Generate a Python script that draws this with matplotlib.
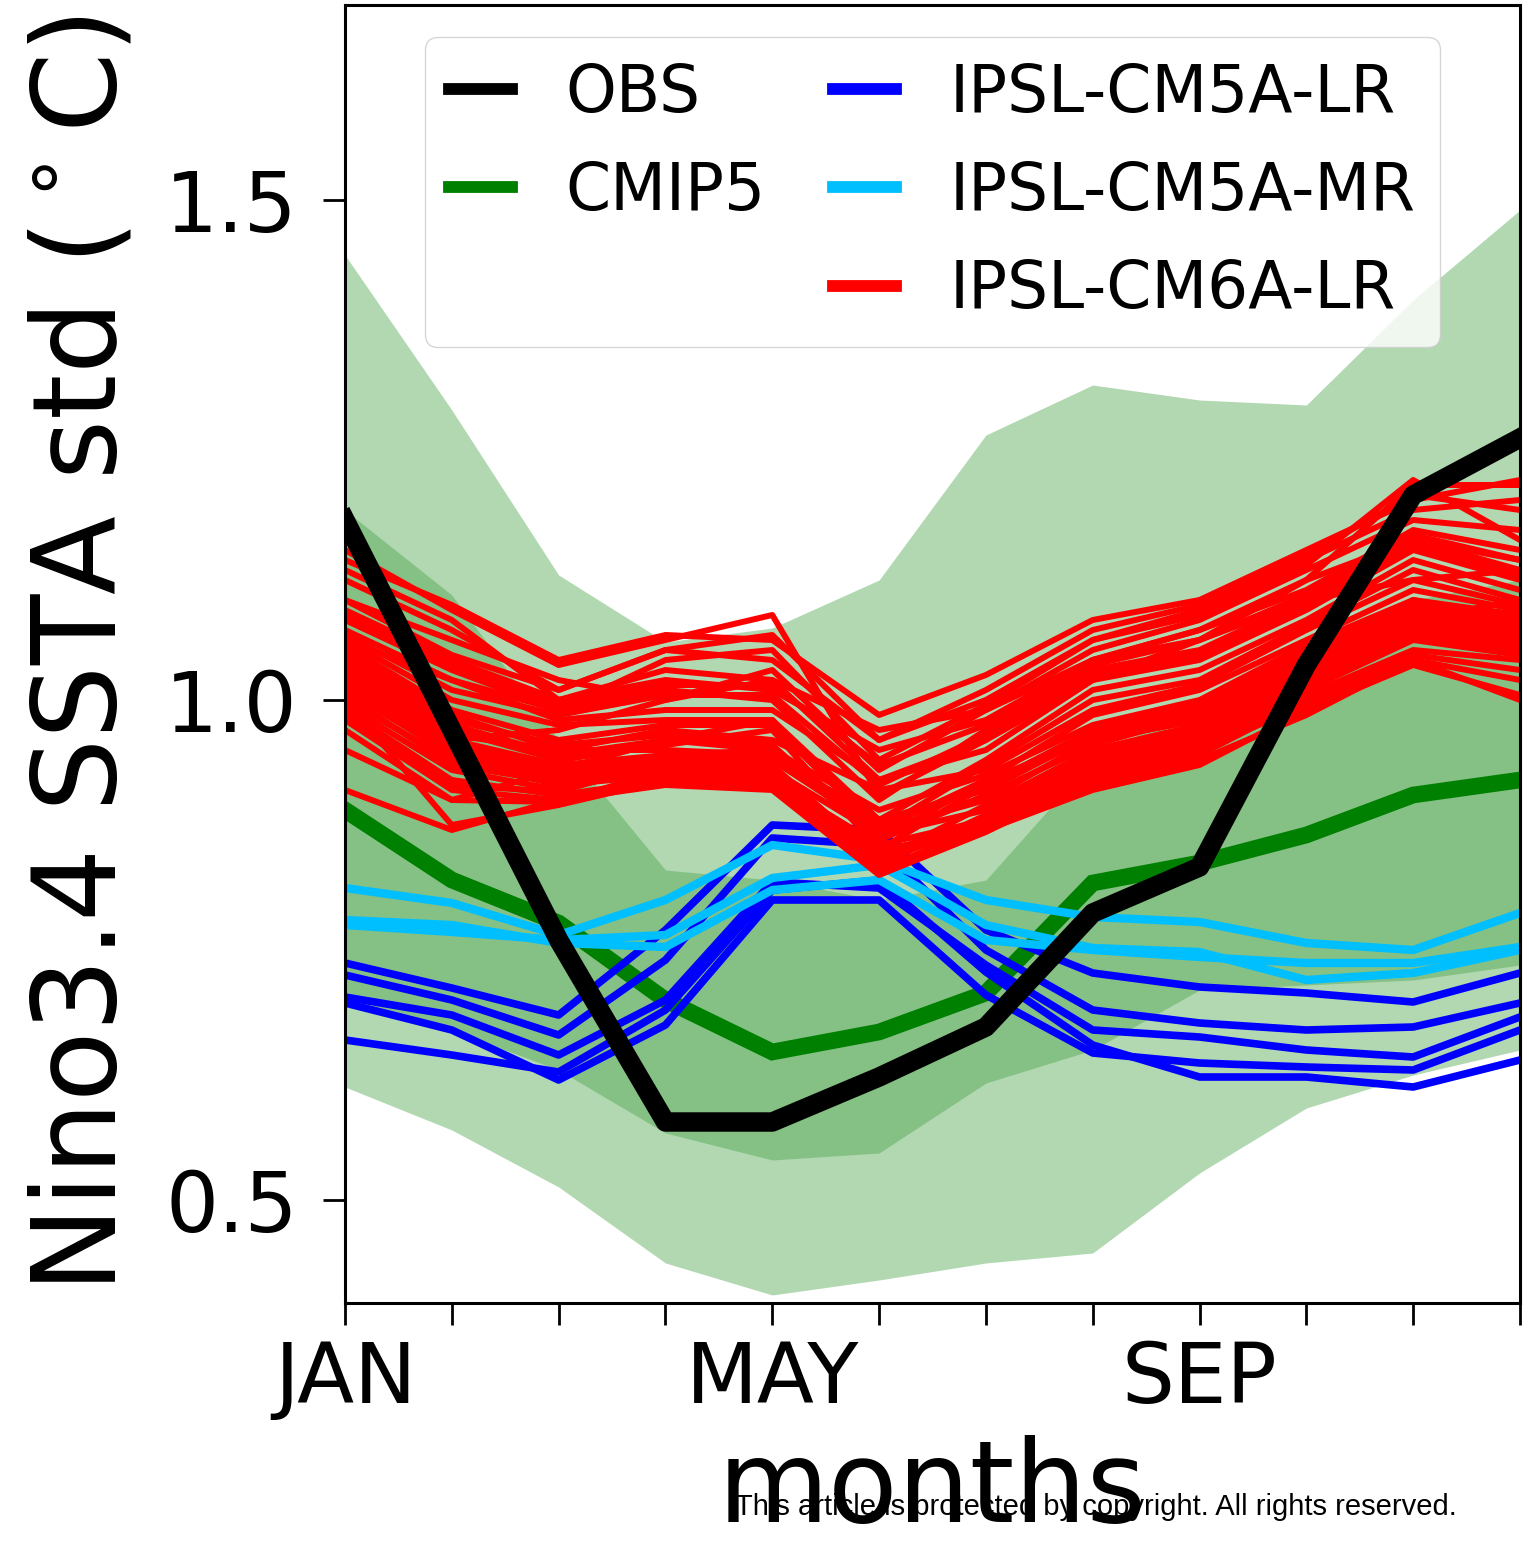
import matplotlib
matplotlib.use("Agg")
import matplotlib.pyplot as plt
from matplotlib.lines import Line2D
import numpy as np

# months and tick labels
months = np.arange(1, 13)
month_labels = ['JAN', '', '', '', 'MAY', '', '', '', 'SEP', '', '', '']

# observed Nino3.4 SSTA std
obs = [1.18, 0.97, 0.76, 0.578, 0.578, 0.623, 0.673, 0.787, 0.833, 1.035, 1.205, 1.262]

# CMIP5 multi-model mean and spread
cmip5_mean = [0.89, 0.82, 0.777, 0.70, 0.648, 0.668, 0.707, 0.817, 0.837, 0.865, 0.905, 0.92]
cmip5_outer_hi = [1.445, 1.29, 1.125, 1.058, 1.072, 1.12, 1.265, 1.315, 1.30, 1.295, 1.40, 1.49]
cmip5_outer_lo = [0.613, 0.57, 0.513, 0.437, 0.405, 0.42, 0.437, 0.447, 0.527, 0.592, 0.625, 0.65]
cmip5_inner_hi = [1.19, 1.105, 0.96, 0.83, 0.82, 0.80, 0.82, 0.94, 1.0, 1.05, 1.10, 1.12]
cmip5_inner_lo = [0.70, 0.67, 0.63, 0.567, 0.54, 0.547, 0.617, 0.65, 0.71, 0.715, 0.72, 0.735]

# IPSL-CM5A-LR members
cm5a_lr = [
    [0.737, 0.712, 0.685, 0.770, 0.875, 0.870, 0.770, 0.727, 0.713, 0.707, 0.698, 0.727],
    [0.725, 0.700, 0.665, 0.740, 0.862, 0.855, 0.750, 0.690, 0.677, 0.670, 0.673, 0.697],
    [0.703, 0.685, 0.645, 0.700, 0.818, 0.812, 0.735, 0.670, 0.663, 0.650, 0.643, 0.683],
    [0.697, 0.670, 0.620, 0.675, 0.800, 0.800, 0.705, 0.647, 0.637, 0.633, 0.630, 0.670],
    [0.660, 0.645, 0.628, 0.690, 0.810, 0.820, 0.728, 0.655, 0.623, 0.623, 0.613, 0.640],
]

# IPSL-CM5A-MR members
cm5a_mr = [
    [0.812, 0.797, 0.765, 0.800, 0.855, 0.840, 0.800, 0.783, 0.778, 0.757, 0.750, 0.787],
    [0.780, 0.775, 0.757, 0.753, 0.810, 0.820, 0.760, 0.750, 0.743, 0.737, 0.737, 0.753],
    [0.775, 0.768, 0.760, 0.765, 0.822, 0.835, 0.775, 0.752, 0.748, 0.720, 0.727, 0.750],
]

# IPSL-CM6A-LR members
cm6a_lr = [
    [1.150, 1.090, 1.035, 1.060, 1.085, 0.905, 0.960, 1.020, 1.060, 1.120, 1.215, 1.215],
    [1.140, 1.095, 1.040, 1.065, 1.060, 0.985, 1.025, 1.080, 1.100, 1.150, 1.200, 1.220],
    [1.120, 1.070, 1.010, 1.050, 1.040, 0.960, 1.000, 1.060, 1.090, 1.140, 1.190, 1.200],
    [1.100, 1.060, 1.020, 1.000, 1.030, 0.930, 0.990, 1.050, 1.080, 1.130, 1.180, 1.170],
    [1.090, 1.040, 1.000, 1.020, 1.010, 0.950, 0.980, 1.040, 1.070, 1.110, 1.170, 1.150],
    [1.080, 1.030, 0.990, 1.010, 1.000, 0.900, 0.970, 1.030, 1.050, 1.100, 1.160, 1.130],
    [1.070, 1.020, 0.980, 0.990, 0.990, 0.920, 0.950, 1.020, 1.040, 1.090, 1.150, 1.120],
    [1.060, 1.000, 0.975, 0.980, 0.980, 0.880, 0.940, 1.010, 1.030, 1.080, 1.140, 1.110],
    [1.055, 0.990, 0.960, 0.975, 0.975, 0.870, 0.935, 1.000, 1.020, 1.075, 1.130, 1.100],
    [1.050, 0.985, 0.950, 0.970, 0.960, 0.910, 0.930, 0.990, 1.015, 1.070, 1.120, 1.095],
    [1.045, 0.980, 0.955, 0.965, 0.955, 0.860, 0.920, 0.985, 1.010, 1.060, 1.110, 1.090],
    [1.040, 0.975, 0.945, 0.960, 0.950, 0.890, 0.925, 0.975, 1.000, 1.055, 1.100, 1.085],
    [1.035, 0.970, 0.940, 0.955, 0.970, 0.850, 0.915, 0.970, 0.995, 1.050, 1.095, 1.080],
    [1.030, 0.965, 0.950, 0.950, 0.945, 0.880, 0.910, 0.965, 0.990, 1.045, 1.090, 1.075],
    [1.025, 0.960, 0.935, 0.945, 0.940, 0.870, 0.900, 0.960, 0.980, 1.040, 1.085, 1.070],
    [1.020, 0.955, 0.930, 0.940, 0.935, 0.840, 0.895, 0.950, 0.975, 1.030, 1.080, 1.065],
    [1.015, 0.950, 0.925, 0.935, 0.930, 0.865, 0.890, 0.945, 0.970, 1.025, 1.075, 1.060],
    [1.010, 0.945, 0.920, 0.930, 0.925, 0.835, 0.885, 0.940, 0.965, 1.020, 1.070, 1.055],
    [1.000, 0.940, 0.915, 0.925, 0.920, 0.855, 0.880, 0.935, 0.960, 1.015, 1.065, 1.050],
    [0.995, 0.930, 0.910, 0.935, 0.930, 0.830, 0.875, 0.930, 0.955, 1.010, 1.060, 1.045],
    [0.990, 0.920, 0.905, 0.920, 0.915, 0.850, 0.870, 0.925, 0.950, 1.005, 1.050, 1.040],
    [0.980, 0.910, 0.900, 0.915, 0.910, 0.825, 0.868, 0.920, 0.945, 1.000, 1.045, 1.030],
    [0.970, 0.900, 0.898, 0.930, 0.925, 0.845, 0.880, 0.930, 0.950, 0.995, 1.040, 1.020],
    [1.000, 0.875, 0.895, 0.920, 0.915, 0.830, 0.870, 0.910, 0.935, 0.990, 1.035, 1.005],
    [0.910, 0.870, 0.900, 0.925, 0.920, 0.840, 0.875, 0.915, 0.940, 0.985, 1.040, 1.000],
    [1.100, 1.045, 1.010, 1.050, 1.065, 0.960, 1.010, 1.070, 1.095, 1.145, 1.205, 1.190],
    [1.060, 1.020, 0.990, 1.040, 1.050, 0.940, 0.995, 1.060, 1.085, 1.135, 1.220, 1.160],
    [1.010, 0.960, 0.970, 1.000, 1.020, 0.920, 0.960, 1.040, 1.060, 1.100, 1.120, 1.130],
    [0.950, 0.900, 0.930, 0.960, 0.980, 0.870, 0.920, 0.960, 0.980, 1.030, 1.080, 1.100],
    [1.130, 1.080, 1.000, 1.030, 1.020, 0.970, 0.990, 1.040, 1.070, 1.120, 1.160, 1.140],
    [1.065, 1.010, 0.985, 1.005, 1.005, 0.915, 0.965, 1.025, 1.045, 1.095, 1.155, 1.125],
    [1.085, 1.035, 0.995, 1.015, 1.015, 0.935, 0.975, 1.035, 1.060, 1.105, 1.165, 1.140],
    [1.005, 0.935, 0.918, 0.945, 0.950, 0.860, 0.905, 0.955, 0.985, 1.035, 1.085, 1.060],
    [0.985, 0.915, 0.908, 0.940, 0.945, 0.875, 0.915, 0.965, 0.985, 1.040, 1.100, 1.080],
]

legend_labels = ['OBS', 'CMIP5', 'IPSL-CM5A-LR', 'IPSL-CM5A-MR', 'IPSL-CM6A-LR']
legend_colors = ['black', 'green', 'blue', 'deepskyblue', 'red']

plt.rcParams['font.family'] = ['DejaVu Sans']

fig = plt.figure(figsize=(15.36, 15.44), dpi=100)
ax = fig.add_axes([345 / 1536, 1 - 1303 / 1544, 1175 / 1536, 1298 / 1544])

# CMIP5 spread
ax.fill_between(months, cmip5_outer_lo, cmip5_outer_hi, color='green', alpha=0.3, lw=0)
ax.fill_between(months, cmip5_inner_lo, cmip5_inner_hi, color='green', alpha=0.25, lw=0)
ax.plot(months, cmip5_mean, color='green', lw=12, solid_joinstyle='miter')

for m in cm5a_lr:
    ax.plot(months, m, color='blue', lw=5.5)
for m in cm5a_mr:
    ax.plot(months, m, color='deepskyblue', lw=6)
for m in cm6a_lr:
    ax.plot(months, m, color='red', lw=4.3)

ax.plot(months, obs, color='black', lw=14)

ax.set_xlim(1, 12)
ax.set_ylim(0.397, 1.695)
ax.set_xticks(months)
ax.set_xticklabels(month_labels)
ax.set_yticks([0.5, 1.0, 1.5])
ax.tick_params(axis='both', direction='out', length=16, width=2, labelsize=60)
ax.tick_params(axis='x', pad=10)
ax.tick_params(axis='y', pad=18)
for s in ax.spines.values():
    s.set_linewidth(2.2)

ax.set_ylabel(r'Nino3.4 SSTA std ($^\circ$C)', fontsize=83)
ax.yaxis.set_label_coords(-0.175, 0.5)
ax.set_xlabel('months', fontsize=82)
ax.xaxis.set_label_coords(0.5, -0.102)

handles = [Line2D([], [], color=c, lw=8.5) for c in legend_colors]
blank = Line2D([], [], color='none')
handles = handles[:2] + [blank] + handles[2:]
labels = legend_labels[:2] + [' '] + legend_labels[2:]
ax.legend(handles, labels, loc='upper center', ncol=2, fontsize=46.5,
          handlelength=0.97, handletextpad=0.83, columnspacing=1.05,
          labelspacing=0.53, borderpad=0.38)

fig.text(735 / 1536, 1 - 1515 / 1544, 'This article is protected by copyright. All rights reserved.',
         family='Liberation Sans', fontsize=21, color='black')

fig.savefig('out.png', dpi=100)
